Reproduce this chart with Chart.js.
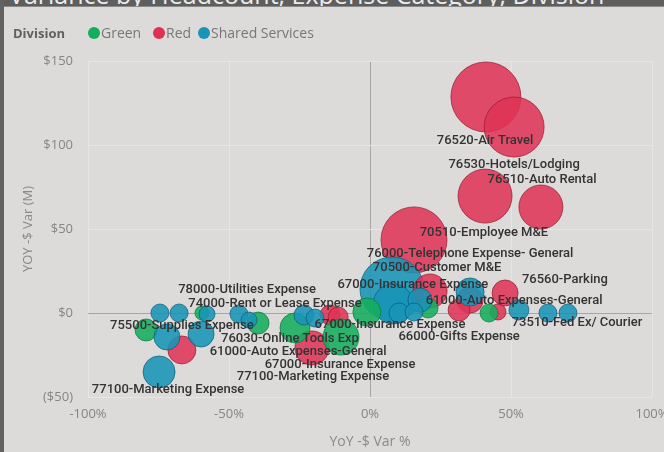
<!DOCTYPE html>
<html>
<head>
<meta charset="utf-8">
<script src="https://cdn.jsdelivr.net/npm/chart.js@4/dist/chart.umd.min.js"></script>
<style>
  html, body { margin:0; padding:0; }
  body { width:664px; height:452px; overflow:hidden; background:#dcdbd9; position:relative; font-family:"Open Sans","Noto Sans",sans-serif; }
  #c { position:absolute; left:0; top:0; }
  #leftbar { position:absolute; left:0; top:0; width:4px; height:452px; background:#626262; z-index:3; }
  #topbar { position:absolute; left:0; top:0; width:664px; height:6px; background:#5e5e5e; overflow:hidden; z-index:2; border-bottom:1px solid #8a8a8a; }
  #topbar span { position:absolute; left:9px; top:-18px; font-size:25px; line-height:25px; color:#ececec; white-space:nowrap; }
  #legend { position:absolute; left:13px; top:24px; height:18px; font-size:14px; color:#777; z-index:2; white-space:nowrap; }
  #legend .t { position:absolute; left:0; top:0; font-weight:bold; font-size:13px; color:#606060; }
  #legend .dot { position:absolute; top:3px; width:12px; height:12px; border-radius:50%; }
  #legend .lbl { position:absolute; top:-1px; }
</style>
</head>
<body>
<div id="leftbar"></div>
<div id="topbar"><span>Variance by Headcount, Expense Category, Division</span></div>
<div id="legend">
  <span class="t">Division</span>
  <span class="dot" style="left:75px;background:#14ad5c"></span><span class="lbl" style="left:88px">Green</span>
  <span class="dot" style="left:140px;background:#de3254"></span><span class="lbl" style="left:153px">Red</span>
  <span class="dot" style="left:185px;background:#1894b6"></span><span class="lbl" style="left:198px">Shared Services</span>
</div>
<canvas id="c" width="664" height="452"></canvas>
<script>
// ---- data (x: YoY -$ Var %, y: YOY -$ Var (M), size: bubble size) ----
const xTicks = [-100, -50, 0, 50, 100];
const yTicks = [-50, 0, 50, 100, 150];

const greenX    = [-79.4, -59.6, -39.7, -26.6, -10.3, -1.1, 20.6, 42.2];
const greenY    = [-10.1, 0.0, -6.0, -8.9, -14.3, 0.6, 3.0, 0.0];
const greenSize = [11, 7, 11, 15, 18, 14, 10, 9];

const redX    = [41.1, 51.1, 60.6, 40.8, 15.6, 21.3, 35.5, 47.9, 31.6, 45.4, -66.7, -14.2, -11.3, -20.6];
const redY    = [128.6, 110.7, 63.1, 69.6, 43.5, 13.1, 7.7, 11.9, 1.8, 0.6, -22.0, -1.2, -2.4, -20.8];
const redSize = [35, 30, 22, 27, 33, 17, 13, 13, 11, 8, 14, 10, 10, 17];

const blueX    = [-74.5, -67.7, -72.0, -74.8, -59.9, -57.8, -46.5, -42.9, -23.4, -19.5, 7.8, 8.2, 17.7, 10.3, 15.6, 35.5, 52.8, 63.1, 70.2];
const blueY    = [0.0, 0.0, -14.3, -35.1, -12.5, -0.6, -0.6, -4.2, -1.2, -3.0, 14.3, 5.4, 7.7, 0.0, 0.6, 12.5, 1.8, 0.0, 0.0];
const blueSize = [9, 9, 13, 16, 13, 8, 9, 8, 10, 9, 32, 20, 12, 10, 9, 14, 10, 9, 9];

// category labels shown on the chart, anchored in data units
const labelText = [
  "76520-Air Travel", "76530-Hotels/Lodging", "76510-Auto Rental", "70510-Employee M&E",
  "76000-Telephone Expense- General", "70500-Customer M&E", "67000-Insurance Expense",
  "76560-Parking", "61000-Auto Expenses-General", "73510-Fed Ex/ Courier", "66000-Gifts Expense",
  "67000-Insurance Expense", "78000-Utilities Expense", "74000-Rent or Lease Expense",
  "75500-Supplies Expense", "76030-Online Tools Exp", "61000-Auto Expenses-General",
  "67000-Insurance Expense", "77100-Marketing Expense", "77100-Marketing Expense"
];
const labelX = [40.8, 51.1, 61.0, 40.4, 35.5, 23.8, 15.2, 69.1, 51.1, 73.4, 31.6, 7.1, -43.6, -33.7, -66.7, -28.4, -25.5, -10.6, -20.2, -71.6];
const labelY = [102.4, 88.1, 79.2, 47.6, 35.1, 26.8, 16.7, 19.6, 7.1, -6.0, -14.3, -7.1, 13.7, 5.4, -7.7, -15.5, -23.2, -31.0, -38.1, -45.8];

// points of one series, filtered by size and sorted so larger bubbles are drawn first
const pts = (xs, ys, ss, keep) => xs.map((x, i) => ({x: x, y: ys[i], r: ss[i]}))
  .filter(p => keep(p.r)).sort((a, b) => b.r - a.r);
const big = r => r >= 20, small = r => r < 20, all = () => true;

const labelPlugin = {
  id: 'catLabels',
  afterDatasetsDraw(chart) {
    const {ctx, scales: {x, y}} = chart;
    ctx.save();
    ctx.font = '500 13px Roboto, "DejaVu Sans", sans-serif';
    ctx.fillStyle = '#333333';
    ctx.textAlign = 'center';
    ctx.textBaseline = 'middle';
    labelText.forEach((t, i) => {
      ctx.fillText(t, x.getPixelForValue(labelX[i]), y.getPixelForValue(labelY[i]));
    });
    ctx.restore();
  }
};

const tickFont = {family: '"Open Sans", "Noto Sans", sans-serif', size: 13};
const gridColor = c => (c.tick && c.tick.value === 0) ? '#a6a6a6' : '#e6e5e3';
const GREEN = {backgroundColor: 'rgba(20,173,92,0.88)', borderColor: 'rgba(10,120,60,0.7)', borderWidth: 1};
const RED = {backgroundColor: 'rgba(222,50,84,0.86)', borderColor: 'rgba(150,25,45,0.7)', borderWidth: 1};
const BLUE = {backgroundColor: 'rgba(24,148,182,0.88)', borderColor: 'rgba(12,90,120,0.7)', borderWidth: 1};

new Chart(document.getElementById('c'), {
  type: 'bubble',
  data: {
    datasets: [
      Object.assign({label: 'Red', order: 5, data: pts(redX, redY, redSize, big)}, RED),
      Object.assign({label: 'Shared Services', order: 4, data: pts(blueX, blueY, blueSize, big)}, BLUE),
      Object.assign({label: 'Red', order: 3, data: pts(redX, redY, redSize, small)}, RED),
      Object.assign({label: 'Green', order: 2, data: pts(greenX, greenY, greenSize, all)}, GREEN),
      Object.assign({label: 'Shared Services', order: 1, data: pts(blueX, blueY, blueSize, small)}, BLUE)
    ]
  },
  options: {
    responsive: false,
    animation: false,
    devicePixelRatio: 1,
    layout: {autoPadding: false, padding: {left: 0, right: 12, top: 61, bottom: 0}},
    plugins: {legend: {display: false}, tooltip: {enabled: false}},
    scales: {
      x: {
        type: 'linear', min: -100, max: 100,
        afterBuildTicks: s => { s.ticks = xTicks.map(v => ({value: v})); },
        ticks: {callback: v => v + '%', color: '#858585', font: tickFont, padding: 9, maxRotation: 0, autoSkip: false},
        grid: {color: gridColor, drawTicks: false, lineWidth: 1},
        border: {display: false},
        title: {display: true, text: 'YoY -$ Var %', color: '#8a8a8a', font: {family: tickFont.family, size: 14}, padding: {top: 0, bottom: 2}},
        afterFit: s => { s.height = 55; s.paddingLeft = 0; s.paddingRight = 0; }
      },
      y: {
        type: 'linear', min: -50, max: 150,
        afterBuildTicks: s => { s.ticks = yTicks.map(v => ({value: v})); },
        ticks: {callback: v => v < 0 ? '($' + (-v) + ')' : '$' + v, color: '#858585', font: tickFont, padding: 15},
        grid: {color: gridColor, drawTicks: false, lineWidth: 1},
        border: {display: false},
        title: {display: true, text: 'YOY -$ Var (M)', color: '#8a8a8a', font: {family: tickFont.family, size: 13}, padding: {top: 20, bottom: 0}},
        afterFit: s => { s.width = 88; s.paddingTop = 0; s.paddingBottom = 0; }
      }
    }
  },
  plugins: [labelPlugin]
});
</script>
</body>
</html>
